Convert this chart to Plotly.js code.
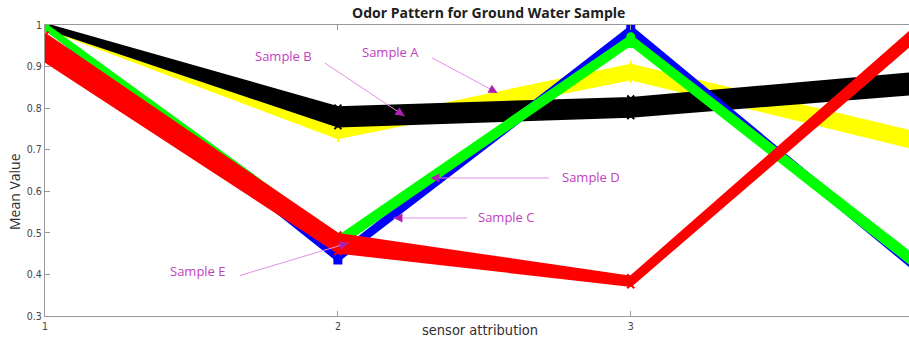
<!DOCTYPE html>
<html>
<head>
<meta charset="utf-8">
<script src="https://cdn.plot.ly/plotly-3.0.1.min.js"></script>
<style>html,body{margin:0;padding:0;background:#fff;}#chart{width:909px;height:342px;}</style>
</head>
<body>
<div id="chart"></div>
<script>
// sensor attribution positions
const sensors = [1, 2, 3, 4];
const xTickLabels = ['1', '2', '3'];
const yTickValues = [0.3, 0.4, 0.5, 0.6, 0.7, 0.8, 0.9, 1.0];
const yTickLabels = ['0.3', '0.4', '0.5', '0.6', '0.7', '0.8', '0.9', '1'];

// band edges (lowest / highest of the repeated measurements) per sample
const sampleALow  = [0.995, 0.730, 0.872, 0.700];
const sampleAHigh = [1.000, 0.755, 0.902, 0.735];
const sampleBLow  = [0.995, 0.758, 0.782, 0.838];
const sampleBHigh = [1.000, 0.800, 0.822, 0.884];
const sampleCLow  = [0.995, 0.435, 0.975, 0.395];
const sampleCHigh = [1.000, 0.448, 0.994, 0.410];
const sampleDLow  = [0.992, 0.468, 0.955, 0.402];
const sampleDHigh = [1.000, 0.488, 0.972, 0.425];
const sampleELow  = [0.915, 0.455, 0.375, 0.982];
const sampleEHigh = [0.976, 0.495, 0.392, 1.010];

const samples = [
  {name: 'Sample A', low: sampleALow, high: sampleAHigh, color: '#ffff00', symbol: 'cross-thin-open'},
  {name: 'Sample B', low: sampleBLow, high: sampleBHigh, color: '#000000', symbol: 'x-thin-open'},
  {name: 'Sample C', low: sampleCLow, high: sampleCHigh, color: '#0000ff', symbol: 'square'},
  {name: 'Sample D', low: sampleDLow, high: sampleDHigh, color: '#00ff00', symbol: 'circle'},
  {name: 'Sample E', low: sampleELow, high: sampleEHigh, color: '#ff0000', symbol: 'x-thin-open'}
];

const traces = [];
samples.forEach(s => {
  traces.push({x: sensors, y: s.low, type: 'scatter', mode: 'lines+markers', name: s.name,
    line: {color: s.color, width: 4}, marker: {symbol: s.symbol, size: 7, color: s.color, line: {color: s.color, width: 2}},
    hoverinfo: 'skip'});
  traces.push({x: sensors, y: s.high, type: 'scatter', mode: 'lines+markers', name: s.name,
    fill: 'tonexty', fillcolor: s.color,
    line: {color: s.color, width: 4}, marker: {symbol: s.symbol, size: 7, color: s.color, line: {color: s.color, width: 2}},
    hoverinfo: 'skip'});
});

// pixel helpers for annotation placement (plot area: x 45..909, y 25..316)
const px = p => 1 + (p - 45) / 292.5;
const py = p => 0.3 + (316 - p) / 415.7;

const labelColor = '#c040c0';
const lineColor = '#e590e5';
const arrows = [
  {text: 'Sample B', tx: 283, ty: 56, x0: 323, y0: 62, x1: 404, y1: 116},
  {text: 'Sample A', tx: 390, ty: 52, x0: 430, y0: 57, x1: 497, y1: 93},
  {text: 'Sample D', tx: 590, ty: 177, x0: 550, y0: 178, x1: 430, y1: 178},
  {text: 'Sample C', tx: 506, ty: 217, x0: 468, y0: 218, x1: 393, y1: 218},
  {text: 'Sample E', tx: 198, ty: 271, x0: 238, y0: 276, x1: 348, y1: 243}
];

const annotations = [];
arrows.forEach(a => {
  annotations.push({x: px(a.tx), y: py(a.ty), xref: 'x', yref: 'y', text: a.text, showarrow: false,
    font: {family: 'Open Sans, Noto Sans, sans-serif', size: 13, color: labelColor}, xanchor: 'center', yanchor: 'middle'});
  annotations.push({x: px(a.x1), y: py(a.y1), ax: px(a.x0), ay: py(a.y0), xref: 'x', yref: 'y', axref: 'x', ayref: 'y',
    text: '', showarrow: true, arrowhead: 0, arrowwidth: 1, arrowcolor: lineColor});
  const dx = a.x1 - a.x0, dy = a.y1 - a.y0, L = Math.hypot(dx, dy);
  annotations.push({x: px(a.x1), y: py(a.y1), ax: -dx / L * 9, ay: -dy / L * 9, xref: 'x', yref: 'y',
    text: '', showarrow: true, arrowhead: 2, arrowsize: 1.2, arrowwidth: 1.5, arrowcolor: '#b020b0', standoff: 0});
});

// titles
annotations.push({text: '<b>Odor Pattern for Ground Water Sample</b>', xref: 'paper', yref: 'paper',
  x: (488 - 45) / 864, y: (316 - 13) / 291, showarrow: false, xanchor: 'center', yanchor: 'middle',
  font: {family: 'Open Sans, Noto Sans, sans-serif', size: 14, color: '#202020'}});
annotations.push({text: 'sensor attribution', xref: 'paper', yref: 'paper',
  x: (480 - 45) / 864, y: (316 - 330) / 291, showarrow: false, xanchor: 'center', yanchor: 'middle',
  font: {family: 'DejaVu Sans Condensed, Liberation Sans Narrow, sans-serif', size: 14.5, color: '#303030'}});
annotations.push({text: 'Mean Value', xref: 'paper', yref: 'paper', textangle: -90,
  x: (14 - 45) / 864, y: (316 - 192) / 291, showarrow: false, xanchor: 'center', yanchor: 'middle',
  font: {family: 'Open Sans, Noto Sans, sans-serif', size: 14, color: '#303030'}});

const layout = {
  width: 909, height: 342,
  margin: {l: 45, r: 0, t: 25, b: 26, pad: 0},
  paper_bgcolor: '#ffffff', plot_bgcolor: '#ffffff',
  showlegend: false,
  xaxis: {range: [1, 3.95], tickvals: [1, 2, 3], ticktext: xTickLabels, ticks: 'inside', ticklen: 5,
    tickcolor: '#999', showline: true, linecolor: '#999', linewidth: 1, mirror: 'ticks',
    showgrid: false, zeroline: false, automargin: false,
    tickfont: {family: 'DejaVu Sans Condensed, Liberation Sans Narrow, sans-serif', size: 10.5, color: '#444'}},
  yaxis: {range: [0.3, 1.0], tickvals: yTickValues, ticktext: yTickLabels, ticks: 'inside', ticklen: 5,
    tickcolor: '#999', showline: true, linecolor: '#999', linewidth: 1,
    showgrid: false, zeroline: false, automargin: false,
    tickfont: {family: 'DejaVu Sans Condensed, Liberation Sans Narrow, sans-serif', size: 10.5, color: '#444'}},
  annotations: annotations
};

Plotly.newPlot('chart', traces, layout, {staticPlot: true, displayModeBar: false});
</script>
</body>
</html>
